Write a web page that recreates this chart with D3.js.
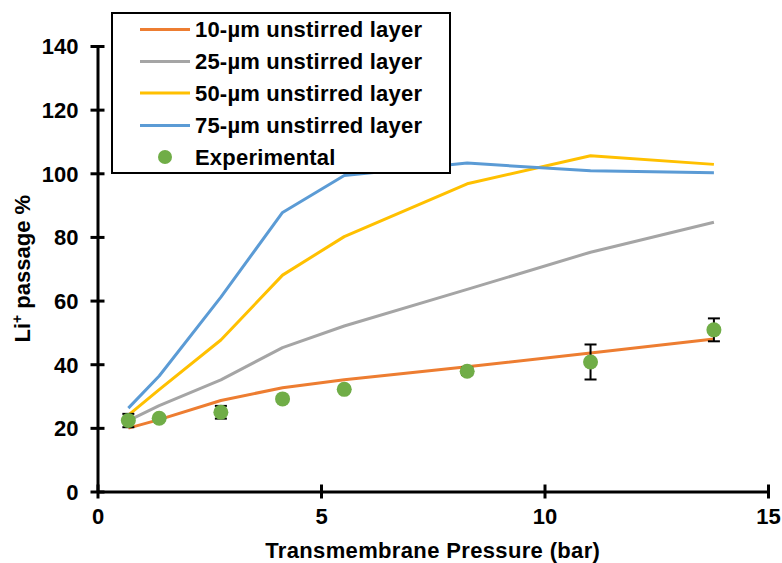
<!DOCTYPE html>
<html>
<head>
<meta charset="utf-8">
<script src="https://cdn.jsdelivr.net/npm/d3@7"></script>
<style>
  body { margin: 0; background: #fff; }
  svg { display: block; font-family: Arial, 'Liberation Sans', sans-serif; }
</style>
</head>
<body>
<div id="chart"></div>
<script>
// pressure in bar
var pressure = [0.69, 1.38, 2.76, 4.14, 5.52, 8.27, 11.03, 13.79];
var experimental = [22.3, 23.0, 24.9, 29.1, 32.1, 37.8, 40.7, 50.8];
var expError = [2.1, 0.8, 2.0, 0.8, 0.8, 1.2, 5.5, 3.6];
var layer10 = [19.9, 22.6, 28.6, 32.6, 35.1, 39.2, 43.5, 47.9];
var layer25 = [22.3, 27.0, 35.1, 45.2, 52.0, 63.5, 75.2, 84.6];
var layer50 = [24.0, 32.0, 47.6, 68.0, 80.1, 96.7, 105.5, 102.8];
var layer75 = [26.2, 36.3, 61.1, 87.7, 99.3, 103.2, 100.8, 100.2];
var seriesNames = ['10-µm unstirred layer', '25-µm unstirred layer', '50-µm unstirred layer', '75-µm unstirred layer'];
var seriesColors = ['#ED7D31', '#A5A5A5', '#FFC000', '#5B9BD5'];
var xTicks = [0, 5, 10, 15];
var yTicks = [0, 20, 40, 60, 80, 100, 120, 140];

var W = 782, H = 563;
var margin = {top: 46, left: 97.5, right: 14, bottom: 71.5};
var width = W - margin.left - margin.right;
var height = H - margin.top - margin.bottom;

var svg = d3.select('#chart').append('svg')
  .attr('width', W)
  .attr('height', H);

var plot = svg.append('g')
  .attr('transform', 'translate(' + margin.left + ',' + margin.top + ')');

var x = d3.scaleLinear().domain([0, 15]).range([0, width]);
var y = d3.scaleLinear().domain([0, 140]).range([height, 0]);

// axes
var xAxis = d3.axisBottom(x).tickValues(xTicks).tickSizeOuter(0).tickSizeInner(7).tickPadding(0);
var yAxis = d3.axisLeft(y).tickValues(yTicks).tickSizeOuter(0).tickSizeInner(7).tickPadding(0);

var gx = plot.append('g').attr('class', 'x-axis')
  .attr('transform', 'translate(0,' + height + ')')
  .call(xAxis);
var gy = plot.append('g').attr('class', 'y-axis')
  .call(yAxis);

plot.selectAll('.x-axis, .y-axis').attr('font-family', null).attr('font-size', null);
plot.selectAll('.domain').attr('stroke', '#000').attr('stroke-width', 3);
gx.selectAll('.tick line').attr('y1', -7).attr('y2', 7).attr('stroke', '#000').attr('stroke-width', 3);
gy.selectAll('.tick line').attr('x1', -7).attr('x2', 7).attr('stroke', '#000').attr('stroke-width', 3);

gx.selectAll('.tick text')
  .attr('y', 32).attr('dy', null)
  .attr('fill', '#000')
  .attr('font-size', '22px').attr('font-weight', 'bold');
gy.selectAll('.tick text')
  .attr('x', -19).attr('dy', '0.36em')
  .attr('fill', '#000')
  .attr('font-size', '22px').attr('font-weight', 'bold');

// axis titles
svg.append('text')
  .attr('x', margin.left + width / 2)
  .attr('y', 558)
  .attr('text-anchor', 'middle')
  .attr('font-size', '22px').attr('font-weight', 'bold')
  .attr('letter-spacing', '0.35px')
  .text('Transmembrane Pressure (bar)');

var yTitle = svg.append('text')
  .attr('transform', 'translate(30,' + (margin.top + height / 2) + ') rotate(-90)')
  .attr('text-anchor', 'middle')
  .attr('font-size', '22px').attr('font-weight', 'bold');
yTitle.append('tspan').text('Li');
yTitle.append('tspan').attr('font-size', '14px').attr('dy', '-8').text('+');
yTitle.append('tspan').attr('dy', '8').text(' passage %');

// model lines
var line = d3.line()
  .x(function(d, i) { return x(pressure[i]); })
  .y(function(d) { return y(d); });

[layer10, layer25, layer50, layer75].forEach(function(s, k) {
  plot.append('path')
    .attr('d', line(s))
    .attr('fill', 'none')
    .attr('stroke', seriesColors[k])
    .attr('stroke-width', 3)
    .attr('stroke-linejoin', 'round');
});

// error bars
var gErr = plot.selectAll('.err')
  .data(experimental)
  .enter()
  .append('g').attr('class', 'err')
  .attr('stroke', '#000').attr('stroke-width', 2);
gErr.append('line')
  .attr('x1', function(d, i) { return x(pressure[i]); })
  .attr('x2', function(d, i) { return x(pressure[i]); })
  .attr('y1', function(d, i) { return y(d + expError[i]); })
  .attr('y2', function(d, i) { return y(d - expError[i]); });
gErr.append('line')
  .attr('x1', function(d, i) { return x(pressure[i]) - 6; })
  .attr('x2', function(d, i) { return x(pressure[i]) + 6; })
  .attr('y1', function(d, i) { return y(d + expError[i]); })
  .attr('y2', function(d, i) { return y(d + expError[i]); });
gErr.append('line')
  .attr('x1', function(d, i) { return x(pressure[i]) - 6; })
  .attr('x2', function(d, i) { return x(pressure[i]) + 6; })
  .attr('y1', function(d, i) { return y(d - expError[i]); })
  .attr('y2', function(d, i) { return y(d - expError[i]); });

// experimental points
plot.selectAll('.exp-dot')
  .data(experimental)
  .enter()
  .append('circle').attr('class', 'exp-dot')
  .attr('cx', function(d, i) { return x(pressure[i]); })
  .attr('cy', function(d) { return y(d); })
  .attr('r', 7.5)
  .attr('fill', '#70AD47');

// legend
var legend = svg.append('g').attr('class', 'legend');
legend.append('rect')
  .attr('x', 112).attr('y', 13)
  .attr('width', 338).attr('height', 160)
  .attr('fill', '#fff')
  .attr('stroke', '#000').attr('stroke-width', 2);

var rowY = [29.5, 61.5, 93, 125.5, 157];
seriesNames.forEach(function(name, k) {
  legend.append('line')
    .attr('x1', 140).attr('x2', 190)
    .attr('y1', rowY[k]).attr('y2', rowY[k])
    .attr('stroke', seriesColors[k]).attr('stroke-width', 3);
  legend.append('text')
    .attr('x', 195).attr('y', rowY[k]).attr('dy', '0.36em')
    .attr('font-size', '22px').attr('font-weight', 'bold')
    .attr('letter-spacing', '0.2px')
    .text(name);
});
legend.append('circle')
  .attr('cx', 165).attr('cy', rowY[4]).attr('r', 7)
  .attr('fill', '#70AD47');
legend.append('text')
  .attr('x', 195).attr('y', rowY[4]).attr('dy', '0.36em')
  .attr('font-size', '22px').attr('font-weight', 'bold')
  .attr('letter-spacing', '0.2px')
  .text('Experimental');
</script>
</body>
</html>
